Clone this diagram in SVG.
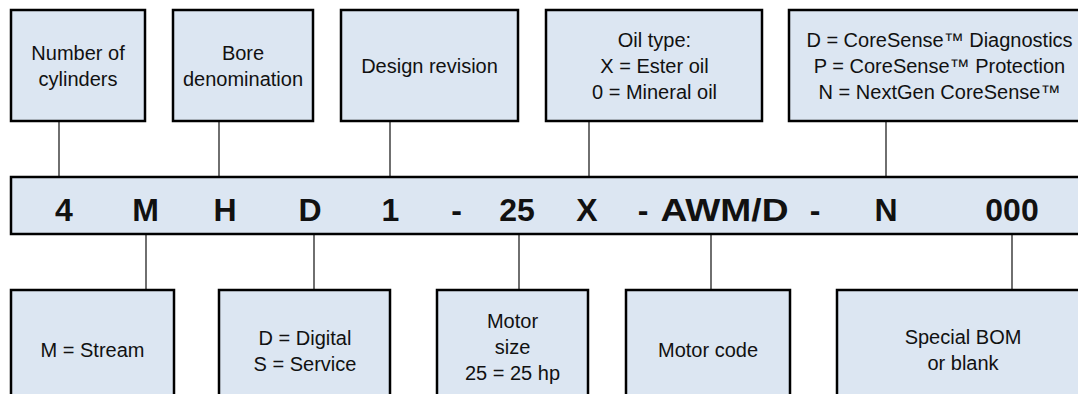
<svg xmlns="http://www.w3.org/2000/svg" width="1078" height="394" viewBox="0 0 1078 394">
<style>
.box{fill:#dce6f2;stroke:#000;stroke-width:2.5}
.lbl{font-family:"Liberation Sans",Arial,sans-serif;font-size:20px;fill:#111;text-anchor:middle}
.code{font-family:"Liberation Sans",Arial,sans-serif;font-size:32px;font-weight:bold;fill:#111;text-anchor:middle}
.conn line{stroke:#333;stroke-width:1.4}
</style>
<rect width="1078" height="394" fill="#fff"/>
<g class="conn" id="connectors">
<line x1="59" y1="121" x2="59" y2="177"/>
<line x1="219" y1="121" x2="219" y2="177"/>
<line x1="390" y1="121" x2="390" y2="177"/>
<line x1="589" y1="121" x2="589" y2="177"/>
<line x1="886" y1="121" x2="886" y2="177"/>
<line x1="146" y1="234" x2="146" y2="290"/>
<line x1="314" y1="234" x2="314" y2="290"/>
<line x1="519" y1="234" x2="519" y2="290"/>
<line x1="711" y1="234" x2="711" y2="290"/>
<line x1="1012" y1="234" x2="1012" y2="290"/>
</g>
<g id="cylinders">
<rect class="box" x="11" y="10" width="134" height="111"/>
<text class="lbl" x="78" y="60">Number of</text>
<text class="lbl" x="78" y="85.5">cylinders</text>
</g>
<g id="bore">
<rect class="box" x="173" y="10" width="140" height="111"/>
<text class="lbl" x="243" y="60">Bore</text>
<text class="lbl" x="243" y="85.5">denomination</text>
</g>
<g id="design">
<rect class="box" x="341" y="10" width="177" height="111"/>
<text class="lbl" x="429.5" y="73">Design revision</text>
</g>
<g id="oil">
<rect class="box" x="546" y="10" width="216" height="111"/>
<text class="lbl" x="654.5" y="47">Oil type:</text>
<text class="lbl" x="654.5" y="73">X = Ester oil</text>
<text class="lbl" x="654.5" y="99">0 = Mineral oil</text>
</g>
<g id="coresense">
<rect class="box" x="789" y="10" width="301" height="111"/>
<text class="lbl" x="939.5" y="47">D = CoreSense™ Diagnostics</text>
<text class="lbl" x="939.5" y="73">P = CoreSense™ Protection</text>
<text class="lbl" x="939.5" y="99">N = NextGen CoreSense™</text>
</g>
<g id="model-code">
<rect class="box" x="11" y="177" width="1079" height="57"/>
<text class="code" x="64" y="221">4</text>
<text class="code" x="145.5" y="221">M</text>
<text class="code" x="225" y="221">H</text>
<text class="code" x="310" y="221">D</text>
<text class="code" x="390.5" y="221">1</text>
<text class="code" x="456.5" y="221">-</text>
<text class="code" x="517" y="221">25</text>
<text class="code" x="587" y="221">X</text>
<text class="code" x="643" y="221">-</text>
<text class="code" x="724.5" y="221" textLength="128" lengthAdjust="spacingAndGlyphs">AWM/D</text>
<text class="code" x="815" y="221">-</text>
<text class="code" x="886" y="221">N</text>
<text class="code" x="1012" y="221">000</text>
</g>
<g id="stream">
<rect class="box" x="11" y="290" width="163" height="120"/>
<text class="lbl" x="92.5" y="357">M = Stream</text>
</g>
<g id="digital">
<rect class="box" x="219" y="290" width="171" height="120"/>
<text class="lbl" x="305" y="344.5">D = Digital</text>
<text class="lbl" x="305" y="371">S = Service</text>
</g>
<g id="motor-size">
<rect class="box" x="437" y="290" width="151" height="120"/>
<text class="lbl" x="512.5" y="328">Motor</text>
<text class="lbl" x="512.5" y="354">size</text>
<text class="lbl" x="512.5" y="380">25 = 25 hp</text>
</g>
<g id="motor-code">
<rect class="box" x="626" y="290" width="164" height="120"/>
<text class="lbl" x="708" y="357">Motor code</text>
</g>
<g id="bom">
<rect class="box" x="837" y="290" width="253" height="120"/>
<text class="lbl" x="963" y="343.5">Special BOM</text>
<text class="lbl" x="963" y="370">or blank</text>
</g>
</svg>
